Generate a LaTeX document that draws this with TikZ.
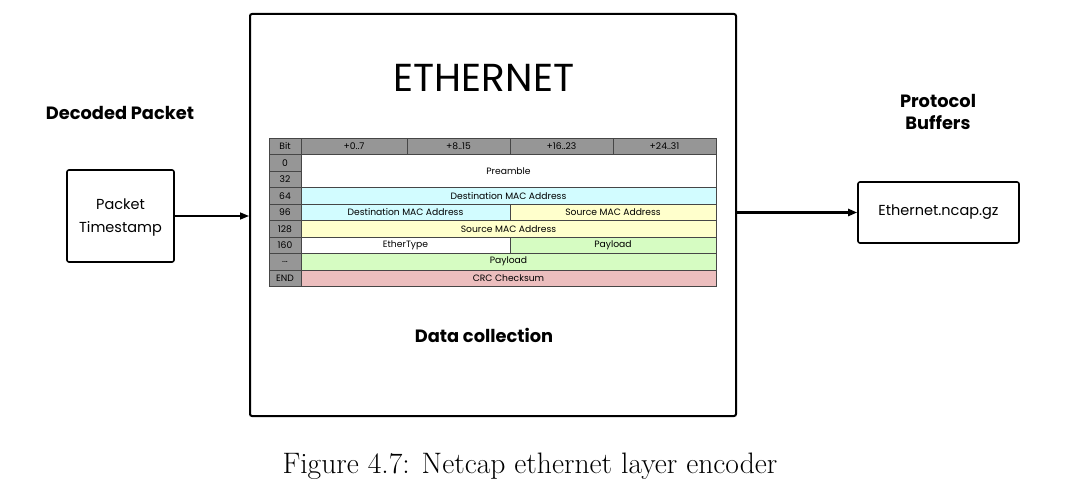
\documentclass[tikz,border=0pt]{standalone}
\usepackage{fontspec}
\setsansfont{Poppins}
\usetikzlibrary{arrows.meta}
\definecolor{hdrgray}{RGB}{150,150,150}
\definecolor{cellline}{RGB}{70,70,70}
\definecolor{ccyan}{RGB}{210,252,255}
\definecolor{cyellow}{RGB}{255,255,204}
\definecolor{cgreen}{RGB}{214,252,194}
\definecolor{cpink}{RGB}{236,190,190}
\tikzset{
  tcell/.style={draw=cellline,line width=0.7pt,inner sep=0pt,font=\sffamily\fontsize{9.2}{10}\selectfont},
  pbox/.style={draw,line width=1.6pt,rounded corners=2pt,align=center,font=\sffamily\fontsize{14.5}{23}\selectfont},
  ttl/.style={font=\sffamily\bfseries\fontsize{17.8}{22}\selectfont,align=center},
  arr/.style={-{Triangle[length=9pt,width=7pt]},line width=1.5pt}
}
\newcommand\tc[7]{\node[tcell,fill=#2,minimum width={#5-#3},minimum height={#6-#4}] (#1) at ({(#3+#5)/2},{(#4+#6)/2}) {#7};}
\begin{document}
\begin{tikzpicture}[x=1pt,y=-1pt]
\useasboundingbox (0,0) rectangle (1085,497);
% main box
\node[draw,line width=2pt,rounded corners=2pt,minimum width=486,minimum height=402] (main) at (493,215) {};
\node[font=\sffamily\fontsize{39}{44}\selectfont] (eth) at (484,78) {ETHERNET};
\node[ttl] (dc) at (484,335) {Data collection};
% table
\tc{hb}{hdrgray}{269}{138}{301}{154.5}{Bit}
\tc{h1}{hdrgray}{301}{138}{407}{154.5}{+0..7}
\tc{h2}{hdrgray}{407}{138}{510}{154.5}{+8..15}
\tc{h3}{hdrgray}{510}{138}{613}{154.5}{+16..23}
\tc{h4}{hdrgray}{613}{138}{716}{154.5}{+24..31}
\tc{b0}{hdrgray}{269}{154.5}{301}{171}{0}
\tc{b32}{hdrgray}{269}{171}{301}{187.5}{32}
\tc{b64}{hdrgray}{269}{187.5}{301}{204}{64}
\tc{b96}{hdrgray}{269}{204}{301}{220.5}{96}
\tc{b128}{hdrgray}{269}{220.5}{301}{237}{128}
\tc{b160}{hdrgray}{269}{237}{301}{253.5}{160}
\tc{bdots}{hdrgray}{269}{253.5}{301}{270}{...}
\tc{bend}{hdrgray}{269}{270}{301}{286.5}{END}
\tc{pre}{white}{301}{154.5}{716}{187.5}{Preamble}
\tc{dst1}{ccyan}{301}{187.5}{716}{204}{Destination MAC Address}
\tc{dst2}{ccyan}{301}{204}{510}{220.5}{Destination MAC Address}
\tc{src1}{cyellow}{510}{204}{716}{220.5}{Source MAC Address}
\tc{src2}{cyellow}{301}{220.5}{716}{237}{Source MAC Address}
\tc{etype}{white}{301}{237}{510}{253.5}{EtherType}
\tc{pay1}{cgreen}{510}{237}{716}{253.5}{Payload}
\tc{pay2}{cgreen}{301}{253.5}{716}{270}{Payload}
\tc{crc}{cpink}{301}{270}{716}{286.5}{CRC Checksum}
% left side
\node[ttl] (dp) at (120,113) {Decoded Packet};
\node[pbox,text depth=0pt,minimum width=107,minimum height=92] (pt) at (120.5,216) {Packet\\Timestamp};
% right side
\node[ttl] (pb) at (938,112) {Protocol\\Buffers};
\node[pbox,minimum width=161,minimum height=61] (enc) at (938.5,212.5) {Ethernet.ncap.gz};
% arrows
\draw[arr] (pt.east) -- (pt.east -| main.west);
\draw[arr,line width=2.6pt] (main.east |- enc.west) -- (enc.west);
% caption
\node[font=\fontsize{29.6}{34}\selectfont] (cap) at (530,466) {Figure 4.7: Netcap ethernet layer encoder};
\end{tikzpicture}
\end{document}
